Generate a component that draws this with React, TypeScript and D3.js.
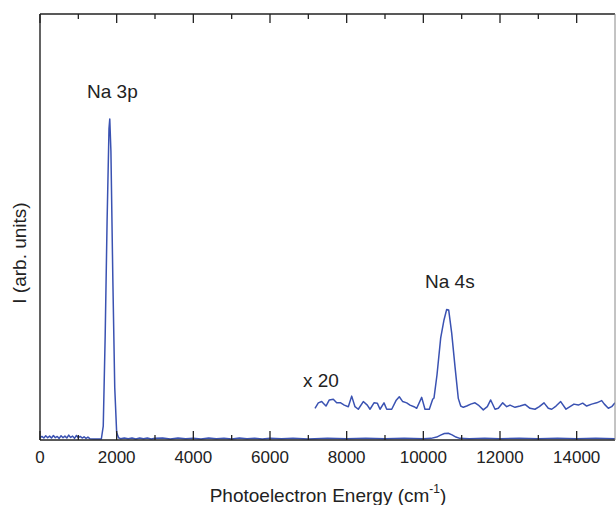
import React from "react";
import * as d3 from "d3";

// Main spectrum: photoelectron energy (cm^-1) and intensity (arb. units)
const mainEnergy = [
  0, 50, 100, 150, 200, 250, 300, 350, 400, 450, 500, 550, 600, 650, 700, 750, 800, 850, 900, 950,
  1000, 1050, 1100, 1150, 1200, 1250, 1300, 1400, 1500, 1600, 1650, 1700, 1750, 1800, 1820, 1850,
  1900, 1950, 2000, 2050, 2100, 2200, 2300, 2400, 2500, 2600, 2700, 2800, 2900, 3000, 3200, 3400,
  3600, 3800, 4000, 4200, 4400, 4600, 4800, 5000, 5200, 5400, 5600, 5800, 6000, 6300, 6600, 7000,
  7500, 8000, 8500, 9000, 9500, 10000, 10200, 10350, 10450, 10550, 10650, 10750, 10850, 10950,
  11200, 11600, 12000, 12500, 13000, 13500, 14000, 14500, 15000,
];
const mainIntensity = [
  0.004, 0.008, 0.003, 0.01, 0.004, 0.009, 0.003, 0.011, 0.004, 0.008, 0.002, 0.01, 0.004, 0.009,
  0.003, 0.012, 0.005, 0.009, 0.002, 0.011, 0.004, 0.008, 0.003, 0.007, 0.002, 0.006, 0.001, 0.0,
  0.0, 0.0, 0.04, 0.32, 0.68, 0.97, 1.0, 0.9, 0.5, 0.16, 0.02, 0.004, 0.001, 0.003, 0.001, 0.003,
  0.0, 0.003, 0.001, 0.003, 0.0, 0.002, 0.003, 0.0, 0.003, 0.001, 0.002, 0.0, 0.003, 0.001, 0.002,
  0.0, 0.003, 0.001, 0.002, 0.0, 0.002, 0.001, 0.002, 0.0, 0.002, 0.001, 0.002, 0.001, 0.002, 0.001,
  0.002, 0.006, 0.012, 0.017, 0.018, 0.013, 0.006, 0.002, 0.001, 0.002, 0.001, 0.002, 0.001, 0.002,
  0.001, 0.002, 0.001,
];

// Magnified (x 20) trace, displayed with an offset above the baseline
const zoomEnergy = [
  7174, 7260, 7349, 7390, 7461, 7547, 7651, 7740, 7844, 7938, 8043, 8131, 8217, 8303, 8434, 8538,
  8609, 8713, 8799, 8870, 8974, 9045, 9175, 9287, 9373, 9462, 9566, 9652, 9757, 9827, 9957, 10043,
  10156, 10244, 10278, 10356, 10453, 10539, 10609, 10662, 10740, 10826, 10912, 10975, 11043, 11131,
  11236, 11348, 11434, 11564, 11669, 11757, 11870, 11956, 12071, 12175, 12261, 12391, 12522, 12652,
  12783, 12913, 13025, 13148, 13260, 13349, 13461, 13583, 13722, 13826, 13930, 14043, 14157, 14261,
  14392, 14522, 14653, 14722, 14826, 14913, 15000,
];
const zoomIntensity = [
  0.096, 0.113, 0.117, 0.112, 0.103, 0.122, 0.124, 0.113, 0.113, 0.106, 0.101, 0.134, 0.101, 0.093,
  0.117, 0.106, 0.093, 0.113, 0.112, 0.093, 0.113, 0.093, 0.093, 0.12, 0.132, 0.117, 0.113, 0.106,
  0.101, 0.096, 0.13, 0.093, 0.093, 0.124, 0.128, 0.2, 0.316, 0.372, 0.405, 0.403, 0.331, 0.226,
  0.127, 0.103, 0.099, 0.103, 0.109, 0.113, 0.106, 0.091, 0.101, 0.122, 0.093, 0.096, 0.113, 0.101,
  0.106, 0.099, 0.103, 0.108, 0.096, 0.093, 0.101, 0.113, 0.096, 0.093, 0.103, 0.117, 0.093, 0.101,
  0.109, 0.106, 0.112, 0.103, 0.109, 0.113, 0.12, 0.109, 0.096, 0.101, 0.113,
];

const majorTicks = [0, 2000, 4000, 6000, 8000, 10000, 12000, 14000];
const minorTicks = [1000, 3000, 5000, 7000, 9000, 11000, 13000];

const W = 616;
const H = 505;
const left = 40;
const right = 615;
const top = 14;
const bottom = 440;
const lineColor = "#3a52b2";
const font = "'Liberation Sans', Arial, Helvetica, sans-serif";

export default function App() {
  const x = d3.scaleLinear().domain([0, 15000]).range([left, right]);
  const y = d3.scaleLinear().domain([0, 1]).range([bottom - 1, 119]);

  const line = d3
    .line<number>()
    .x((_, i) => 0)
    .y(() => 0);

  const mainPath = d3
    .line<[number, number]>()
    .x((d) => x(d[0]))
    .y((d) => y(d[1]))(mainEnergy.map((e, i) => [e, mainIntensity[i]] as [number, number]));
  const zoomPath = d3
    .line<[number, number]>()
    .x((d) => x(d[0]))
    .y((d) => y(d[1]))(zoomEnergy.map((e, i) => [e, zoomIntensity[i]] as [number, number]));
  void line;

  return (
    <svg
      width={W}
      height={H}
      style={{ position: "absolute", left: 0, top: 0, background: "#fff" }}
      fontFamily={font}
    >
      <defs>
        <clipPath id="plot">
          <rect x={left} y={top} width={right - left} height={bottom - top} />
        </clipPath>
      </defs>
      <g clipPath="url(#plot)">
        <path d={mainPath || ""} fill="none" stroke={lineColor} strokeWidth={1.5} strokeLinejoin="round" />
        <path d={zoomPath || ""} fill="none" stroke={lineColor} strokeWidth={1.5} strokeLinejoin="round" />
      </g>
      {/* ticks */}
      {majorTicks.map((t) => (
        <g key={"M" + t}>
          <line x1={x(t)} x2={x(t)} y1={bottom} y2={bottom - 9} stroke="#222" strokeWidth={1.3} />
          <line x1={x(t)} x2={x(t)} y1={top} y2={top + 9} stroke="#222" strokeWidth={1.3} />
          <text x={x(t)} y={463} fontSize={17} textAnchor="middle" fill="#222">
            {t}
          </text>
        </g>
      ))}
      {minorTicks.map((t) => (
        <g key={"m" + t}>
          <line x1={x(t)} x2={x(t)} y1={bottom} y2={bottom - 5} stroke="#222" strokeWidth={1.3} />
          <line x1={x(t)} x2={x(t)} y1={top} y2={top + 5} stroke="#222" strokeWidth={1.3} />
        </g>
      ))}
      {/* frame */}
      <line x1={left} x2={right} y1={top} y2={top} stroke="#222" strokeWidth={1.4} />
      <line x1={left} x2={right} y1={bottom} y2={bottom} stroke="#222" strokeWidth={1.4} />
      <line x1={left} x2={left} y1={top} y2={bottom} stroke="#222" strokeWidth={1.4} />
      <line x1={right} x2={right} y1={top} y2={bottom} stroke="#888" strokeWidth={1} />
      {/* annotations */}
      <text x={87} y={98} fontSize={19} fill="#222">
        Na 3p
      </text>
      <text x={425} y={288} fontSize={19} fill="#222">
        Na 4s
      </text>
      <text x={303} y={387} fontSize={19} fill="#222">
        x 20
      </text>
      {/* axis titles */}
      <text x={328} y={502} fontSize={19} textAnchor="middle" fill="#222">
        Photoelectron Energy (cm
        <tspan fontSize={12} dy={-9}>
          -1
        </tspan>
        <tspan dy={9}>)</tspan>
      </text>
      <text
        transform={`translate(26, 253) rotate(-90)`}
        fontSize={19}
        textAnchor="middle"
        fill="#222"
      >
        I (arb. units)
      </text>
    </svg>
  );
}
